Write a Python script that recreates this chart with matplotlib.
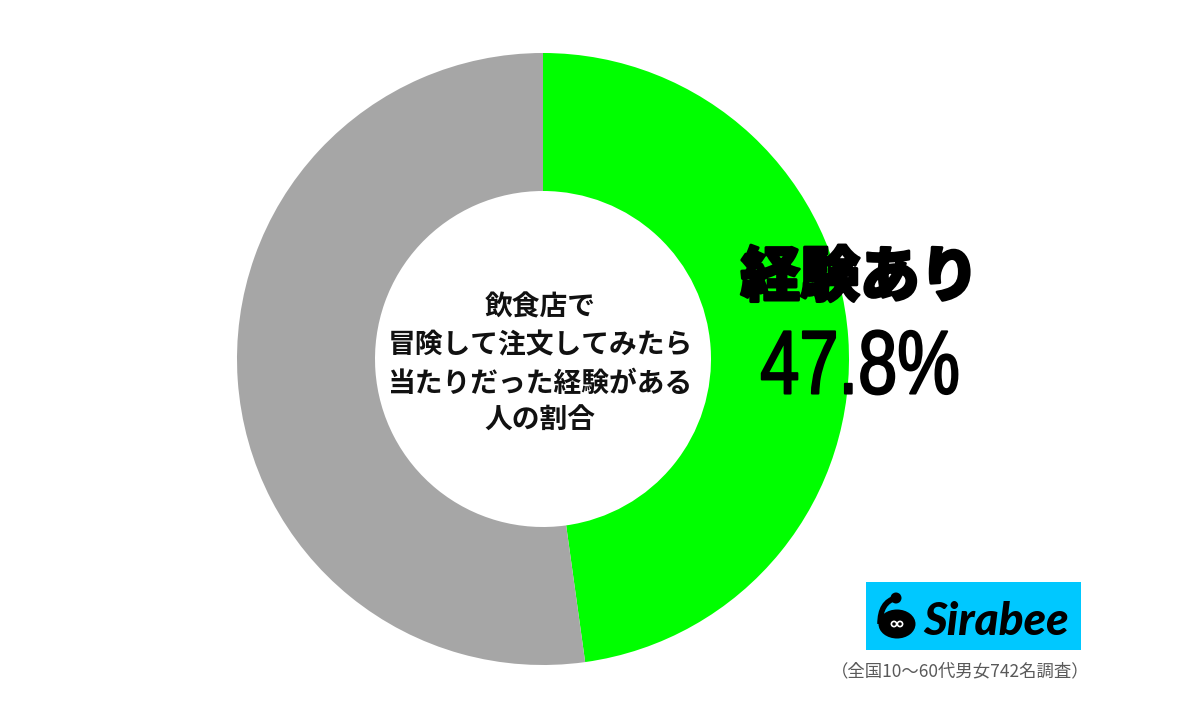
import matplotlib
matplotlib.use('Agg')
import matplotlib.pyplot as plt
import matplotlib.patheffects as pe
from matplotlib.patches import Rectangle, Circle, Ellipse, PathPatch
from matplotlib.path import Path
from matplotlib.transforms import Affine2D

plt.rcParams['font.family'] = ['Noto Sans CJK JP', 'DejaVu Sans']

labels = ['経験あり', 'その他']
values = [47.8, 52.2]
colors = ['#00FF00', '#A6A6A6']
center_lines = ['飲食店で', '冒険して注文してみたら', '当たりだった経験がある', '人の割合']
note = '（全国10〜60代男女742名調査）'
brand = 'Sirabee'


class Squeeze(pe.AbstractPathEffect):
    """Narrow a text horizontally about a pixel x, with a thin outline."""
    def __init__(self, cx, sx, lw):
        super().__init__()
        self.cx, self.sx, self.lw = cx, sx, lw

    def draw_path(self, renderer, gc, tpath, affine, rgbFace=None):
        gc0 = renderer.new_gc()
        gc0.copy_properties(gc)
        gc0.set_linewidth(self.lw)
        gc0.set_foreground('black')
        squeeze = Affine2D().translate(-self.cx, 0).scale(self.sx, 1).translate(self.cx, 0)
        renderer.draw_path(gc0, tpath, affine + squeeze, rgbFace)
        gc0.restore()


W, H = 1200, 714
fig = plt.figure(figsize=(W/100, H/100), dpi=100, facecolor='white')
bg = fig.add_axes([0, 0, 1, 1])
bg.set_xlim(0, W); bg.set_ylim(H, 0); bg.axis('off')

cx, cy, R = 543, 359, 306
ax = fig.add_axes([(cx-R)/W, 1-(cy+R)/H, 2*R/W, 2*R/H])
ax.pie(values, colors=colors, startangle=90, counterclock=False, radius=1,
       wedgeprops=dict(width=1-168/306, linewidth=0))
ax.set_xlim(-1, 1); ax.set_ylim(-1, 1); ax.set_aspect('equal')

txt = fig.add_axes([0, 0, 1, 1]); txt.set_xlim(0, W); txt.set_ylim(H, 0); txt.axis('off'); txt.patch.set_alpha(0)

for line, y in zip(center_lines, [308, 345, 384, 421]):
    txt.text(540, y, line, ha='center', va='center', fontsize=20, fontweight='bold', color='#111111')

t = txt.text(860, 278, labels[0], ha='center', va='center', fontsize=43, fontweight='black', color='black')
t.set_path_effects([pe.withStroke(linewidth=2, foreground='black')])
p = txt.text(860, 370, f'{values[0]}%', ha='center', va='center', fontsize=65, family='Liberation Sans', color='black')
p.set_path_effects([Squeeze(860, 0.78, 1.5)])

txt.add_patch(Rectangle((866, 582), 215, 68, facecolor='#00C8FF', edgecolor='none'))
txt.add_patch(Ellipse((897, 624), 37, 29, facecolor='black', edgecolor='none'))
txt.add_patch(Circle((896, 598), 5.5, facecolor='black', edgecolor='none'))
neck = Path([(896, 598), (880, 602), (880, 624)], [Path.MOVETO, Path.CURVE3, Path.CURVE3])
txt.add_patch(PathPatch(neck, facecolor='none', edgecolor='black', linewidth=4))
txt.add_patch(Circle((894, 624), 2.6, facecolor='none', edgecolor='white', linewidth=1.2))
txt.add_patch(Circle((900, 624), 2.6, facecolor='none', edgecolor='white', linewidth=1.2))
txt.text(923, 622, brand, ha='left', va='center', fontsize=33, fontweight='black', style='italic', family='Lato', color='black')
txt.text(960, 671, note, ha='center', va='center', fontsize=12.5, color='#595959')

fig.savefig('out.png', dpi=100, facecolor='white')
